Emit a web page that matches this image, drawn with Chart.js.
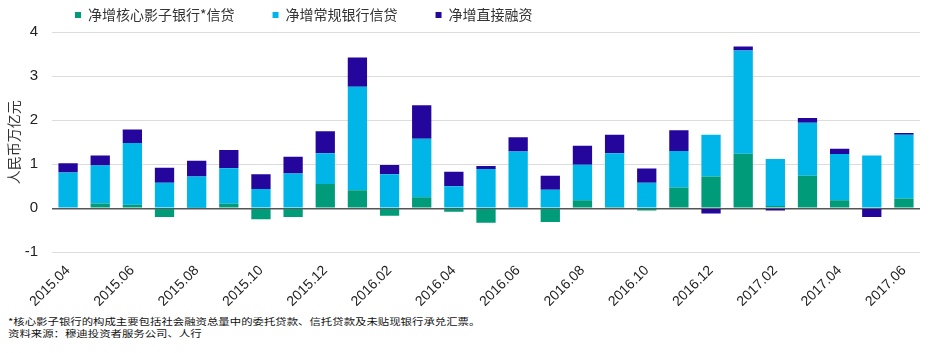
<!DOCTYPE html>
<html>
<head>
<meta charset="utf-8">
<script src="https://cdn.jsdelivr.net/npm/chart.js@4.4.1/dist/chart.umd.min.js"></script>
<style>
    body { margin: 0; background: #fff; width: 943px; height: 353px; overflow: hidden; position: relative; font-family: "Noto Sans CJK SC", sans-serif; }
    #wrap { position: absolute; left: 0; top: 0; width: 943px; height: 312px; }
    .note { position: absolute; left: 8px; top: 315px; font-size: 11.4px; color: #111; line-height: 15px; transform: scale(1, 0.8); transform-origin: 0 0; white-space: nowrap; }
</style>
</head>
<body>
<div id="wrap"><canvas id="dataChart"></canvas></div>
<div class="note">*核心影子银行的构成主要包括社会融资总量中的委托贷款、信托贷款及未贴现银行承兑汇票。<br>资料来源：穆迪投资者服务公司、人行</div>
<script>
const months = ['2015.04', '2015.05', '2015.06', '2015.07', '2015.08', '2015.09', '2015.10', '2015.11', '2015.12',
    '2016.01', '2016.02', '2016.03', '2016.04', '2016.05', '2016.06', '2016.07', '2016.08', '2016.09', '2016.10',
    '2016.11', '2016.12', '2017.01', '2017.02', '2017.03', '2017.04', '2017.05', '2017.06'];

// 人民币万亿元
const shadowCredit = [0.02, 0.11, 0.08, -0.20, 0.01, 0.10, -0.25, -0.20, 0.55,
    0.41, -0.17, 0.25, -0.08, -0.33, 0.00, -0.31, 0.18, 0.03, -0.05,
    0.47, 0.72, 1.24, 0.05, 0.74, 0.18, 0.02, 0.22];
const bankCredit = [0.79, 0.86, 1.40, 0.58, 0.71, 0.81, 0.44, 0.79, 0.70,
    2.35, 0.77, 1.33, 0.50, 0.89, 1.29, 0.42, 0.81, 1.22, 0.58,
    0.83, 0.95, 2.34, 1.07, 1.20, 1.05, 1.18, 1.45];
const directFinancing = [0.21, 0.23, 0.31, 0.34, 0.36, 0.41, 0.33, 0.38, 0.50,
    0.66, 0.21, 0.76, 0.33, 0.07, 0.32, 0.32, 0.43, 0.42, 0.32,
    0.47, -0.12, 0.09, -0.05, 0.11, 0.12, -0.20, 0.04];

const yTicks = [-1, 0, 1, 2, 3, 4];

// shift legend to the right like the original
const legendShift = {
    id: 'legendShift',
    afterLayout(chart) {
        chart.legend.left += 37;
        chart.legend.right += 37;
    }
};

new Chart(document.getElementById('dataChart'), {
    type: 'bar',
    data: {
        labels: months,
        datasets: [
            { label: '净增核心影子银行*信贷', data: shadowCredit, backgroundColor: '#009B78' },
            { label: '净增常规银行信贷', data: bankCredit, backgroundColor: '#00B6E8' },
            { label: '净增直接融资', data: directFinancing, backgroundColor: '#24069C' },
        ],
    },
    options: {
        responsive: true,
        maintainAspectRatio: false,
        animation: false,
        categoryPercentage: 0.6,
        barPercentage: 1,
        layout: { padding: { left: 0, right: 23, top: -30, bottom: 0 } },
        plugins: {
            legend: {
                align: 'start',
                labels: {
                    boxWidth: 6,
                    boxHeight: 6,
                    padding: 38,
                    color: '#333',
                    font: { family: '"Noto Sans CJK SC", sans-serif', size: 14 },
                },
            },
            tooltip: { enabled: false },
        },
        scales: {
            x: {
                stacked: true,
                grid: { display: false },
                border: { display: false },
                ticks: {
                    autoSkip: false,
                    maxRotation: 45,
                    minRotation: 45,
                    padding: 2,
                    color: '#222',
                    font: { family: 'Arial, "Liberation Sans", sans-serif', size: 14 },
                    callback: (v, i) => (i % 2 === 0 ? months[i] : ''),
                },
            },
            y: {
                stacked: true,
                min: -1,
                max: 4,
                afterFit: (s) => { s.width = 52; },
                afterBuildTicks: (s) => { s.ticks = yTicks.map(v => ({ value: v })); },
                title: {
                    display: true,
                    text: '人民币万亿元',
                    color: '#333',
                    padding: { top: 5, bottom: 0 },
                    font: { family: '"Noto Sans CJK SC", sans-serif', size: 14 },
                },
                border: { display: false },
                grid: {
                    drawTicks: false,
                    color: (ctx) => (ctx.tick && ctx.tick.value === 0 ? '#555' : '#dcdcdc'),
                    lineWidth: (ctx) => (ctx.tick && ctx.tick.value === 0 ? 1.5 : 1),
                },
                ticks: {
                    padding: 14,
                    color: '#222',
                    font: { family: 'Arial, "Liberation Sans", sans-serif', size: 15 },
                },
            },
        },
    },
    plugins: [legendShift],
});
</script>
</body>
</html>
